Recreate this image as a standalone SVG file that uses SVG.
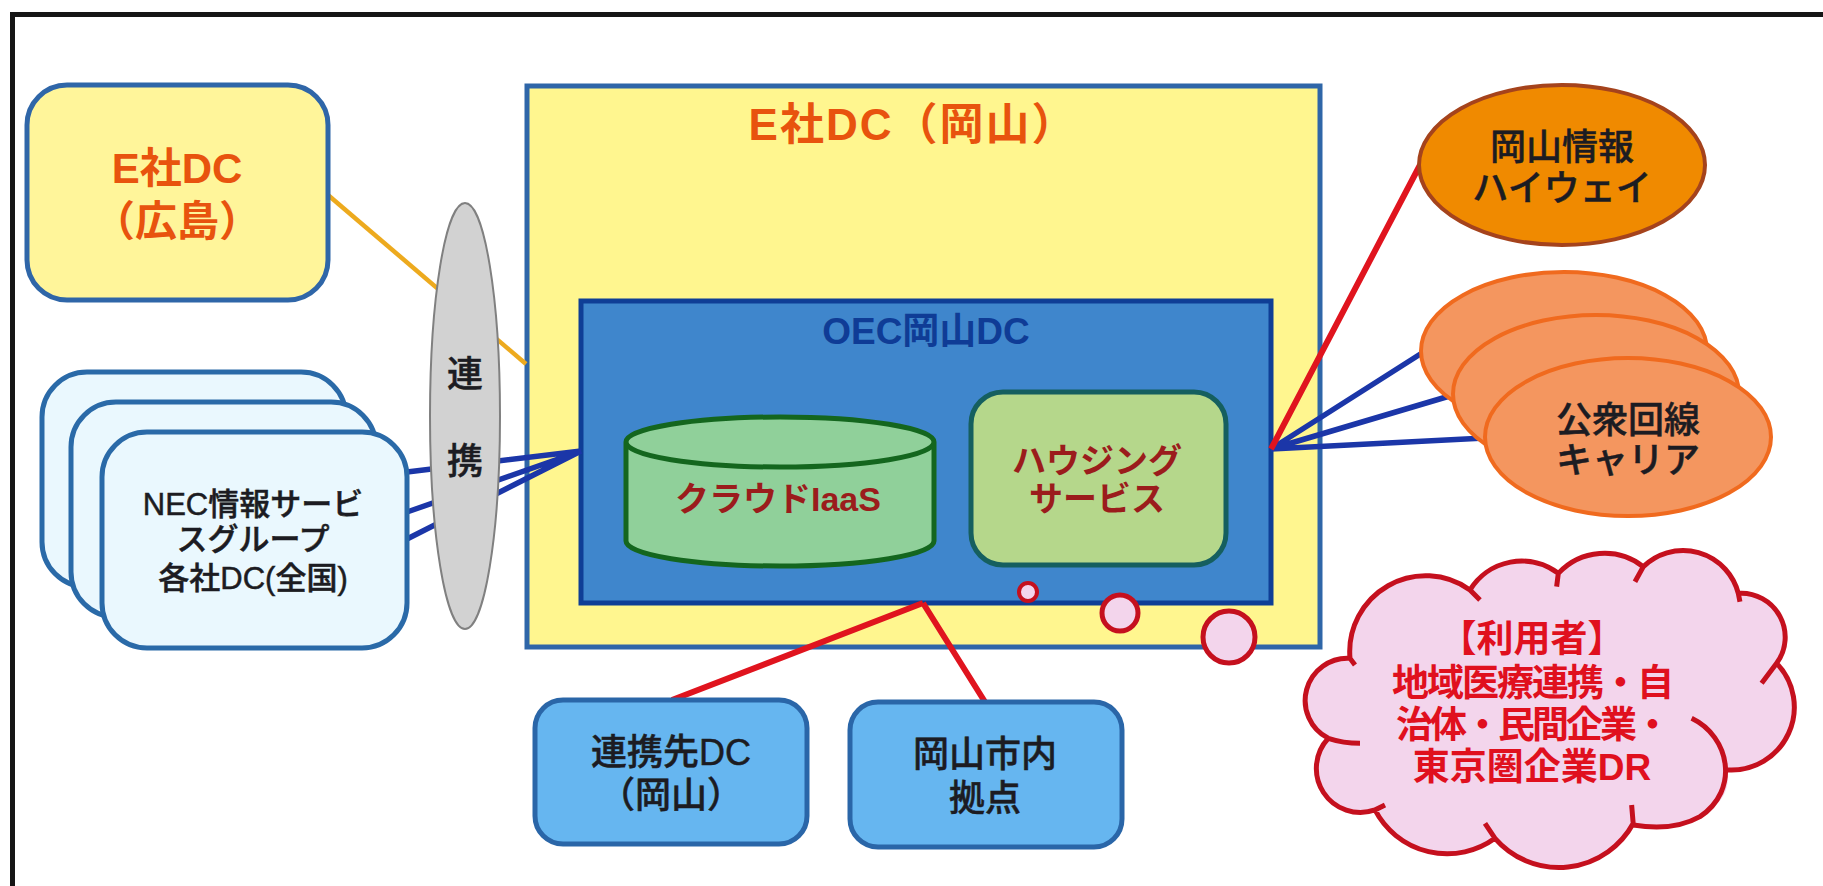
<svg xmlns="http://www.w3.org/2000/svg" width="1823" height="886" viewBox="0 0 1823 886">
<style>
text{font-family:"Liberation Sans","Noto Sans CJK JP",sans-serif;text-anchor:middle}
.k{fill:#1c1c22;font-size:36px;font-weight:500;stroke:#1c1c22;stroke-width:.5}
.s{font-size:31px}
.b{font-weight:700}
.card{fill:#EAF8FE;stroke:#2A6AA8;stroke-width:5}
.blue{fill:#66B6F0;stroke:#2A66A8;stroke-width:5}
.car{fill:#F4965F;stroke:#F06A1E;stroke-width:4}
.bub{fill:#F3D5EC;stroke:#C5101E}
.lb{stroke:#1B36A8;stroke-width:5.5;fill:none}
.lr{stroke:#E0141E;stroke-width:6;fill:none}
.u{font-size:37px;font-weight:700;fill:#E0101E}
.m{font-size:34px;font-weight:700;fill:#9B1C1C}
</style>
<rect width="1823" height="886" fill="#fff"/>
<path d="M12.5 886V14.5H1823" fill="none" stroke="#151515" stroke-width="5"/>
<g id="dc-okayama">
<rect x="527" y="86" width="793" height="561" fill="#FFF68F" stroke="#2F66A8" stroke-width="5"/>
<text x="913" y="140" font-size="44" class="b" fill="#E8530E" letter-spacing="2">E社DC（岡山）</text>
</g>
<g id="oec-okayama">
<rect x="581" y="301" width="690" height="302" fill="#3F86CC" stroke="#0F3E96" stroke-width="5"/>
<text x="926" y="344" font-size="37" class="b" fill="#0F3C96">OEC岡山DC</text>
</g>
<g id="cloud-iaas">
<path d="M626 442V541A154 25 0 0 0 934 541V442A154 25 0 0 0 626 442A154 25 0 0 0 934 442" fill="#90D09A" stroke="#14661E" stroke-width="5"/>
<text class="m" x="778" y="511">クラウドIaaS</text>
</g>
<g id="housing">
<rect x="971" y="392" width="255" height="173" rx="32" fill="#B5D78B" stroke="#155F5F" stroke-width="5"/>
<text class="m" x="1097" y="473">ハウジング</text>
<text class="m" x="1097" y="511">サービス</text>
</g>
<g id="connectors">
<path class="lb" d="M407 472 581 451M407 512 581 451M407 539 581 451M1271 449 1422 353M1271 449 1453 395M1271 449 1485 438"/>
<path class="lr" d="M1271 449 1420 165M923 603 672 700M923 603 985 702"/>
<path d="M328 195 526 364" fill="none" stroke="#EDAA1E" stroke-width="4.5"/>
</g>
<g id="dc-hiroshima">
<rect x="27" y="85" width="301" height="215" rx="40" fill="#FFF59A" stroke="#2F66A8" stroke-width="5"/>
<text x="177" y="183" font-size="42" class="b" fill="#E8530E">E社DC</text>
<text x="177" y="236" font-size="42" class="b" fill="#E8530E">（広島）</text>
</g>
<g id="nec-dc">
<rect class="card" x="42" y="372" width="304" height="215" rx="45"/>
<rect class="card" x="71" y="402" width="305" height="215" rx="45"/>
<rect class="card" x="102" y="432" width="305" height="216" rx="45"/>
<text class="k s" x="253" y="515">NEC情報サービ</text>
<text class="k s" x="253" y="550">スグループ</text>
<text class="k s" x="253" y="589">各社DC(全国)</text>
</g>
<g id="renkei">
<ellipse cx="465" cy="416" rx="35" ry="213" fill="#D2D2D2" stroke="#808080" stroke-width="2"/>
<text class="k" x="465" y="387">連</text>
<text class="k" x="465" y="474">携</text>
</g>
<g id="partner-dc">
<rect class="blue" x="535" y="700" width="272" height="144" rx="28"/>
<text class="k" x="671" y="765">連携先DC</text>
<text class="k" x="671" y="808">（岡山）</text>
</g>
<g id="okayama-sites">
<rect class="blue" x="850" y="702" width="272" height="145" rx="28"/>
<text class="k" x="985" y="767">岡山市内</text>
<text class="k" x="985" y="811">拠点</text>
</g>
<g id="okayama-highway">
<ellipse cx="1562" cy="165" rx="143" ry="80" fill="#F08A00" stroke="#A5431C" stroke-width="4"/>
<text class="k" x="1562" y="160">岡山情報</text>
<text class="k" x="1562" y="201">ハイウェイ</text>
</g>
<g id="carrier">
<ellipse class="car" cx="1564" cy="351" rx="143" ry="79"/>
<ellipse class="car" cx="1596" cy="394" rx="143" ry="79"/>
<ellipse class="car" cx="1628" cy="437" rx="143" ry="79"/>
<text class="k" x="1628" y="433">公衆回線</text>
<text class="k" x="1628" y="473">キャリア</text>
</g>
<g id="users">
<circle class="bub" cx="1028" cy="592" r="9" stroke-width="4"/>
<circle class="bub" cx="1120" cy="613" r="18" stroke-width="5"/>
<circle class="bub" cx="1229" cy="637" r="26" stroke-width="5"/>
<g transform="translate(1300 530) scale(.3333)">
<path fill="#F3D5EC" d="M150 385A228 228 0 0 1 510 180A182 182 0 0 1 775 130A189 189 0 0 1 1030 110A171 171 0 0 1 1315 190A132 132 0 0 1 1430 400A189 189 0 0 1 1283 720C1290 790 1260 825 1200 860Q1120 905 1000 885A254 254 0 0 1 585 925A244 244 0 0 1 225 840A132 132 0 0 1 85 625A127 127 0 0 1 150 385Z"/>
<path fill="none" stroke="#C5101E" stroke-width="15" d="M150 385A228 228 0 0 1 510 180L540 210M510 180A182 182 0 0 1 775 130L770 170M775 130A189 189 0 0 1 1030 110L1005 155M1030 110A171 171 0 0 1 1315 190L1320 215M1315 190A132 132 0 0 1 1430 400L1385 460M1430 400A189 189 0 0 1 1283 720M1175 565C1290 620 1320 780 1200 860Q1120 905 1000 885L995 825M1000 880A254 254 0 0 1 585 925L555 880M585 925A244 244 0 0 1 225 840L255 825M225 840A132 132 0 0 1 85 625Q130 640 180 640M85 625A127 127 0 0 1 150 385L165 405"/>
</g>
<text class="u" x="1532" y="652">【利用者】</text>
<text class="u" x="1532" y="696" letter-spacing="-2">地域医療連携・自</text>
<text class="u" x="1532" y="738" letter-spacing="-3">治体・民間企業・</text>
<text class="u" x="1532" y="780">東京圏企業DR</text>
</g>
</svg>
